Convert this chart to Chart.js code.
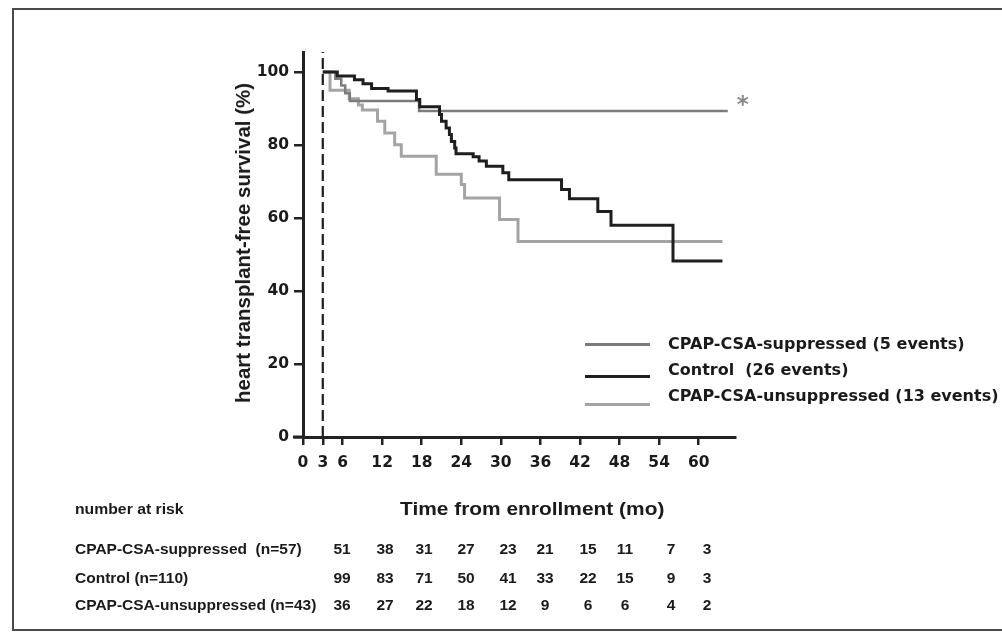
<!DOCTYPE html>
<html>
<head>
<meta charset="utf-8">
<title>Heart transplant-free survival</title>
<script src="https://cdn.jsdelivr.net/npm/chart.js@4.4.1/dist/chart.umd.min.js"></script>
<style>
  body { margin: 0; background: #fff; }
  #wrap { position: relative; width: 1002px; height: 635px; overflow: hidden; background: #fff; }
  #frame { position: absolute; left: 12px; top: 8px; width: 1010px; height: 623px; border: 2px solid #4a4a4a; box-sizing: border-box; }
  #km { position: absolute; left: 0; top: 0; }
  .txt { position: absolute; white-space: pre; color: #1a1a1a; }
  #ytitle { left: 243px; top: 243px; transform: translate(-50%, -50%) rotate(-90deg); font: bold 20.5px "Liberation Sans", Arial, sans-serif; }
  #xtitle { left: 400px; top: 498px; font: bold 19px "Liberation Sans", Arial, sans-serif; transform: scaleX(1.1); transform-origin: left center; }
  #riskTitle { left: 75px; top: 500px; font: bold 15px "Liberation Sans", Arial, sans-serif; transform: scaleX(1.05); transform-origin: left center; }
  .risk { font: bold 15.5px "Liberation Sans", Arial, sans-serif; }
  .legLine { position: absolute; width: 65px; height: 3px; }
  .legTxt { font: bold 16px "DejaVu Sans", sans-serif; }
</style>
</head>
<body>
<div id="wrap">
  <div id="frame"></div>
  <canvas id="km" width="1002" height="635"></canvas>
  <div class="txt" id="ytitle">heart transplant-free survival (%)</div>
  <div class="txt" id="xtitle">Time from enrollment (mo)</div>
  <div class="txt" id="riskTitle">number at risk</div>
  <div id="legend"></div>
  <div id="riskTable"></div>
</div>
<script>
// axis ticks
const monthTicks = [0, 3, 6, 12, 18, 24, 30, 36, 42, 48, 54, 60];
const survivalTicks = [0, 20, 40, 60, 80, 100];

// Kaplan-Meier steps (months, % surviving)
const controlTimes = [3, 5.2, 7.8, 9.1, 10.4, 12.9, 17.2, 17.7, 20.7, 21.0, 21.7, 22.2, 22.5, 23.0, 23.2, 25.8, 26.7, 27.8, 30.3, 31.2, 39.2, 40.4, 44.7, 46.7, 56.1, 63.6];
const controlSurv  = [100, 98.9, 97.9, 96.8, 95.5, 94.8, 92.5, 90.5, 88.4, 86.5, 84.7, 82.9, 81.0, 79.2, 77.6, 76.8, 75.6, 74.2, 72.4, 70.5, 67.8, 65.3, 61.8, 58.0, 48.2, 48.2];

const suppressedTimes = [3, 4.9, 5.8, 6.4, 7.1, 17.6, 64.4];
const suppressedSurv  = [100, 98.2, 96.3, 94.2, 92.1, 89.3, 89.3];

const unsuppressedTimes = [3, 4.1, 7.0, 8.4, 9.0, 11.3, 12.4, 13.9, 14.9, 20.2, 24.0, 24.5, 29.8, 32.6, 63.6];
const unsuppressedSurv  = [100, 95.0, 92.7, 91.0, 89.6, 86.5, 83.3, 80.1, 76.9, 72.0, 69.2, 65.5, 59.6, 53.6, 53.6];

const landmarkMonth = 3;

// number at risk
const riskLabels = ['CPAP-CSA-suppressed  (n=57)', 'Control (n=110)', 'CPAP-CSA-unsuppressed (n=43)'];
const riskSuppressed = [51, 38, 31, 27, 23, 21, 15, 11, 7, 3];
const riskControl = [99, 83, 71, 50, 41, 33, 22, 15, 9, 3];
const riskUnsuppressed = [36, 27, 22, 18, 12, 9, 6, 6, 4, 2];

const legendLabels = ['Control  (26 events)', 'CPAP-CSA-suppressed (5 events)', 'CPAP-CSA-unsuppressed (13 events)'];

function toPoints(xs, ys) {
  return xs.map((x, i) => ({ x: x, y: ys[i] }));
}

const tickFont = { family: 'DejaVu Sans', size: 15.5, weight: 'bold' };

// short stub of the x axis to the left of the y axis, and the asterisk
const extras = {
  id: 'extras',
  afterDraw(chart) {
    const ctx = chart.ctx;
    const xs = chart.scales.x, ys = chart.scales.y;
    const y0 = ys.getPixelForValue(0);
    ctx.save();
    ctx.strokeStyle = '#222';
    ctx.lineWidth = 3;
    ctx.beginPath();
    ctx.moveTo(xs.getPixelForValue(0) - 10, y0);
    ctx.lineTo(xs.getPixelForValue(0), y0);
    ctx.stroke();

    const last = suppressedTimes.length - 1;
    ctx.fillStyle = '#8a8a8a';
    ctx.font = 'bold 23px "DejaVu Sans"';
    ctx.textAlign = 'left';
    ctx.textBaseline = 'middle';
    ctx.fillText('*', xs.getPixelForValue(suppressedTimes[last]) + 9, ys.getPixelForValue(suppressedSurv[last]) - 5);
    ctx.restore();
  }
};

const chart = new Chart(document.getElementById('km'), {
  type: 'line',
  data: {
    datasets: [{
      label: legendLabels[0],
      data: toPoints(controlTimes, controlSurv),
      borderColor: '#1e1e1e',
      borderWidth: 3,
      stepped: 'before',
      pointRadius: 0
    }, {
      label: legendLabels[1],
      data: toPoints(suppressedTimes, suppressedSurv),
      borderColor: '#7c7c7c',
      borderWidth: 2.5,
      stepped: 'before',
      pointRadius: 0
    }, {
      label: legendLabels[2],
      data: toPoints(unsuppressedTimes, unsuppressedSurv),
      borderColor: '#a4a4a4',
      borderWidth: 3,
      stepped: 'before',
      pointRadius: 0
    }, {
      label: 'landmark',
      data: [{ x: landmarkMonth, y: 0 }, { x: landmarkMonth, y: 105.5 }],
      borderColor: '#1e1e1e',
      borderWidth: 2.2,
      borderDash: [11, 5],
      pointRadius: 0
    }]
  },
  options: {
    responsive: false,
    animation: false,
    layout: { padding: { left: 253, right: 267, top: 52, bottom: 168 } },
    plugins: { legend: { display: false }, tooltip: { enabled: false } },
    scales: {
      x: {
        type: 'linear',
        min: 0,
        max: 65.5,
        afterBuildTicks: s => { s.ticks = monthTicks.map(v => ({ value: v })); },
        afterFit: s => { s.height = 30; },
        grid: { drawOnChartArea: false, drawTicks: true, tickLength: 8, color: '#222', lineWidth: 2.5 },
        border: { display: true, color: '#222', width: 3 },
        ticks: { color: '#1a1a1a', font: tickFont, padding: 9, maxRotation: 0 }
      },
      y: {
        min: 0,
        max: 105.5,
        afterBuildTicks: s => { s.ticks = survivalTicks.map(v => ({ value: v })); },
        afterFit: s => { s.width = 50; },
        grid: { drawOnChartArea: false, drawTicks: true, tickLength: 9, color: '#222', lineWidth: 2.5 },
        border: { display: true, color: '#222', width: 3 },
        ticks: { color: '#1a1a1a', font: tickFont, padding: 5 }
      }
    }
  },
  plugins: [extras]
});

// legend, listed in the order of the figure
const legendOrder = [1, 0, 2];
const legendTextY = [334, 360, 386];
const legendLineY = [344, 376, 404];
const legendBox = document.getElementById('legend');
legendOrder.forEach((di, row) => {
  const ds = chart.data.datasets[di];
  const line = document.createElement('div');
  line.className = 'legLine';
  line.style.left = '585px';
  line.style.top = (legendLineY[row] - 1) + 'px';
  line.style.background = ds.borderColor;
  legendBox.appendChild(line);
  const t = document.createElement('div');
  t.className = 'txt legTxt';
  t.style.left = '668px';
  t.style.top = legendTextY[row] + 'px';
  t.textContent = ds.label;
  legendBox.appendChild(t);
});

// number-at-risk table
const riskColumns = [342, 385, 424, 466, 508, 545, 588, 625, 671, 707];
const riskRowsY = [540, 569, 596];
const table = document.getElementById('riskTable');
[riskSuppressed, riskControl, riskUnsuppressed].forEach((vals, r) => {
  const lab = document.createElement('div');
  lab.className = 'txt risk';
  lab.style.left = '75px';
  lab.style.top = riskRowsY[r] + 'px';
  lab.textContent = riskLabels[r];
  table.appendChild(lab);
  vals.forEach((v, c) => {
    const n = document.createElement('div');
    n.className = 'txt risk';
    n.style.left = riskColumns[c] + 'px';
    n.style.top = riskRowsY[r] + 'px';
    n.style.transform = 'translateX(-50%)';
    n.textContent = v;
    table.appendChild(n);
  });
});
</script>
</body>
</html>
